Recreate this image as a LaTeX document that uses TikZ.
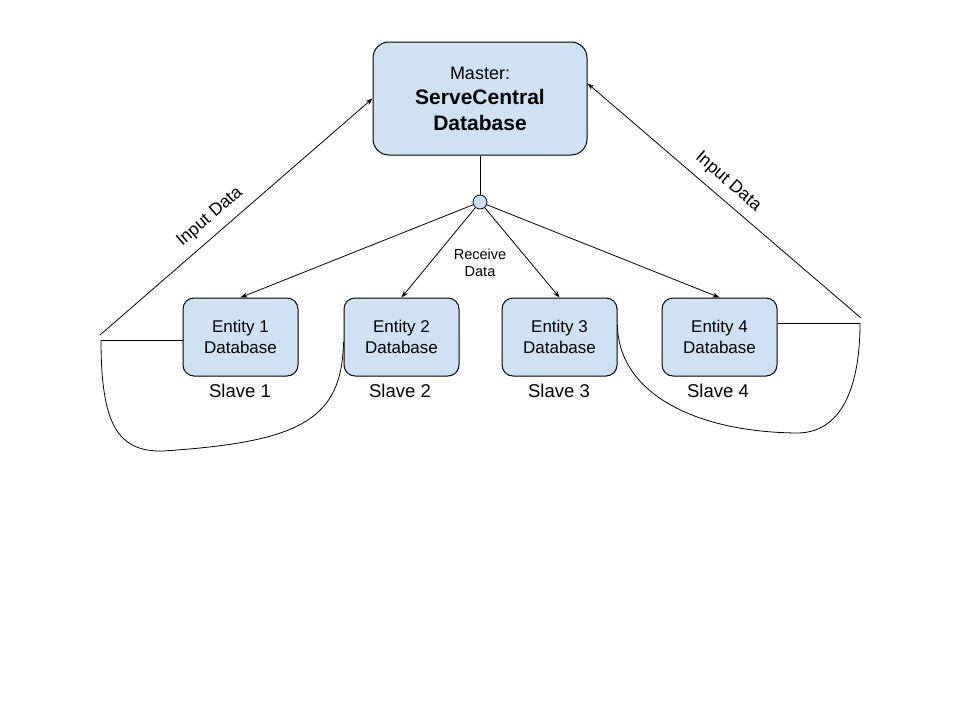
\documentclass[tikz,border=0pt]{standalone}
\usepackage{fontspec}
\setmainfont{Liberation Sans}
\usetikzlibrary{arrows.meta,calc}
\definecolor{boxblue}{HTML}{CFE2F3}
\begin{document}
\begin{tikzpicture}[x=1pt,y=-1pt,
  box/.style={draw=black, fill=boxblue, line width=1pt, inner sep=0pt, align=center},
  ent/.style={box, minimum width=115pt, minimum height=78pt, rounded corners=11pt, font=\fontsize{17}{20.5}\selectfont},
  conn/.style={line width=0.8pt, draw=black},
  arr/.style={conn, -{Stealth[length=7pt,width=5pt]}},
  lbl/.style={font=\fontsize{17.5}{20}\selectfont, inner sep=0pt},
  slave/.style={font=\fontsize{18.5}{20}\selectfont, inner sep=0pt},
]
\useasboundingbox[fill=white] (0,0) rectangle (960,720);

% master
\node[box, minimum width=214pt, minimum height=113pt, rounded corners=16pt,
      font=\fontsize{21}{25.5}\selectfont\bfseries] (m) at (480,98.5)
  {{\mdseries\fontsize{18}{26}\selectfont Master:}\\ServeCentral\\Database};

% junction
\node[circle, draw, fill=boxblue, minimum size=14pt, inner sep=0pt, line width=0.8pt] (c) at (480,202) {};

% entities
\node[ent] (e1) at (240.5,337) {Entity 1\\Database};
\node[ent] (e2) at (401.5,337) {Entity 2\\Database};
\node[ent] (e3) at (559.5,337) {Entity 3\\Database};
\node[ent] (e4) at (719.5,337) {Entity 4\\Database};

% slave labels
\node[slave] (s1) at (240,391) {Slave 1};
\node[slave] (s2) at (400,391) {Slave 2};
\node[slave] (s3) at (559,391) {Slave 3};
\node[slave] (s4) at (718,391) {Slave 4};

% text labels
\node[lbl, rotate=41] (in1) at (210,217) {Input Data};
\node[lbl, rotate=-41] (in2) at (728,182) {Input Data};
\node[lbl, font=\fontsize{14.5}{17}\selectfont, align=center] (rd) at (480,263) {Receive\\Data};

% coordinates
\coordinate (L) at (100,335);
\coordinate (Lh) at (101,340);
\coordinate (Lbot) at (163,451);
\coordinate (R) at (861,318);
\coordinate (Rh) at (860,323);
\coordinate (Rbot) at (797,433);

% master to junction
\draw[conn] (m.south) -- (c);
\draw[arr] (c) -- (e1.north);
\draw[arr] (c) -- (e2.north);
\draw[arr] (c) -- (e3.north);
\draw[arr] (c) -- (e4.north);

% input data
\draw[arr] (L) -- (m.west);
\draw[arr] (R) -- (m.8);

% left loop
\draw[conn] (e1.west |- Lh) -- (Lh);
\draw[conn] (Lh) .. controls (101,425) and (118,452) .. (Lbot)
  .. controls (300,442) and (342,420) .. ($(e2.west)+(0,5)$);

% right loop
\draw[conn] (e4.east |- Rh) -- (Rh);
\draw[conn] ($(e3.east)+(0,-12)$) .. controls (618,390) and (690,432) .. (Rbot)
  .. controls (840,433) and (860,390) .. (Rh);
\end{tikzpicture}
\end{document}
